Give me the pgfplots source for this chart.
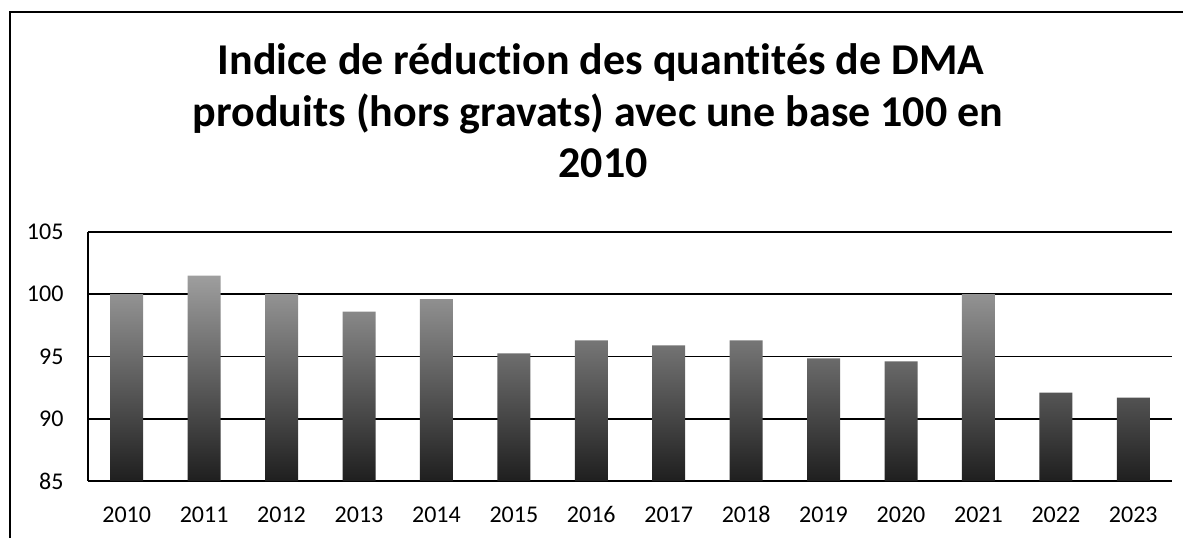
\documentclass[border=0pt]{standalone}
\usepackage{fontspec}
\setmainfont{Carlito}[Ligatures=NoCommon]
\usepackage{pgfplots}
\pgfplotsset{compat=1.18}
\begin{document}
\begin{tikzpicture}[x=1pt,y=1pt]
\path[use as bounding box] (0,0) rectangle (1183,538);
\draw[line width=1.2pt] (10,0) -- (10,526) -- (1183,526);
\node[anchor=base, font=\fontsize{44}{53}\selectfont\bfseries] at (601,463) {Indice de réduction des quantités de DMA};
\node[anchor=base, font=\fontsize{44}{53}\selectfont\bfseries] at (598,411) {produits (hors gravats) avec une base 100 en};
\node[anchor=base, font=\fontsize{44}{53}\selectfont\bfseries] at (603,360) {2010};
\begin{axis}[
  at={(88pt,57pt)}, anchor=south west,
  scale only axis, width=1084pt, height=249pt,
  ybar, bar width=33pt,
  xmin=-0.5, xmax=13.5,
  y filter/.expression={y-85},
  ymin=0, ymax=20,
  ytick={0,5,10,15,20},
  yticklabels={85,90,95,100,105},
  xtick={0,...,13},
  xticklabels={2010,2011,2012,2013,2014,2015,2016,2017,2018,2019,2020,2021,2022,2023},
  axis x line*=bottom, axis y line*=left,
  axis line style={black, line width=2pt},
  ymajorgrids, grid style={black, line width=1.8pt},
  major tick length=0pt,
  /pgf/number format/assume math mode=true,
  tick label style={font=\fontsize{24}{28}\selectfont},
  yticklabel style={xshift=-21pt},
  xticklabel style={anchor=base, text height=15pt, text depth=0pt, yshift=-41pt},
  clip=false,
]
\addplot[draw=none, top color=black!38, bottom color=black!88] coordinates {
 (0,100.0) (1,101.5) (2,100.0) (3,98.6) (4,99.6) (5,95.25) (6,96.3)
 (7,95.9) (8,96.3) (9,94.85) (10,94.6) (11,100.0) (12,92.1) (13,91.7)
};
\end{axis}
\end{tikzpicture}
\end{document}
